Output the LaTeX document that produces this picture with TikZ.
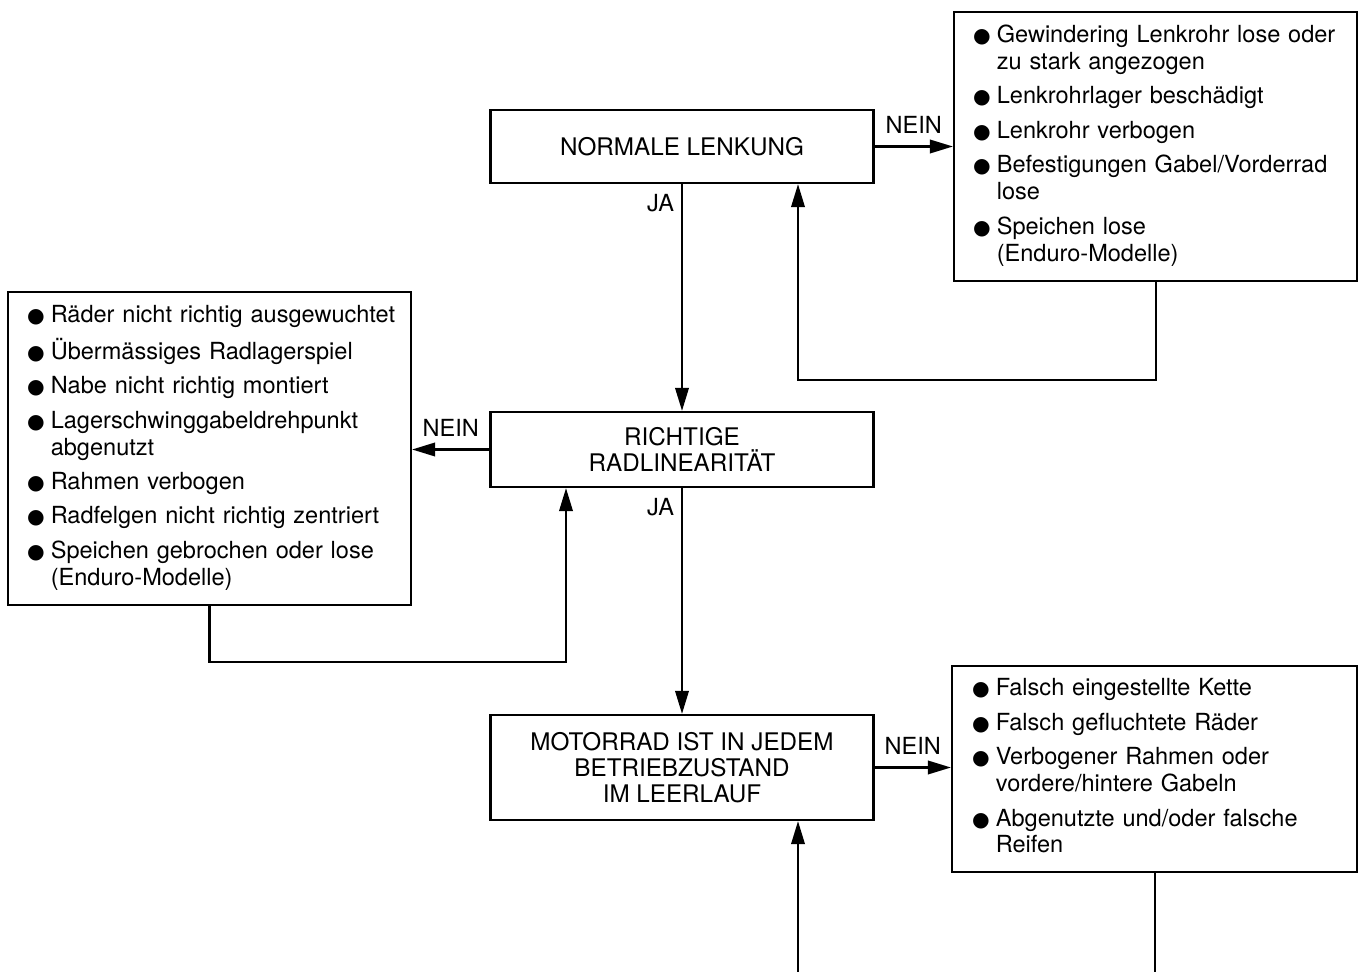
\documentclass[tikz,border=0pt]{standalone}
\usepackage{fontspec}
\setmainfont{TeX Gyre Heros}
\newfontfamily\bulletfont{DejaVu Sans}
\usetikzlibrary{arrows.meta}
\newcommand{\flowfont}{\fontsize{13.4pt}{15.3pt}\selectfont}
\newcommand{\boxfont}{\fontsize{13.8pt}{14.9pt}\selectfont}
\newcommand{\dotmark}{{\bulletfont\fontsize{11.5pt}{15.3pt}\selectfont ●}}
\begin{document}
\begin{tikzpicture}[x=0.02cm,y=-0.02cm,
  box/.style={draw,line width=1.3pt,minimum width=7.66cm,align=center,font=\boxfont,inner sep=2pt},
  liste/.style={draw,line width=1.3pt,inner xsep=0.38cm,inner ysep=0pt,text width=7.3cm,align=left,font=\flowfont},
  arr/.style={line width=1.15pt,-{Triangle[length=0.46cm,width=0.27cm]}},
  lbl/.style={font=\flowfont,inner sep=2pt}]
\useasboundingbox (0,0) rectangle (1361,972);
% Pruefschritte
\node[box,minimum height=1.46cm] (lenkung) at (682,146.5) {NORMALE LENKUNG};
\node[box,minimum height=1.5cm] (linear) at (682,449.5) {RICHTIGE\\RADLINEARITÄT};
\node[box,minimum height=2.1cm] (leerlauf) at (682,767.5) {MOTORRAD IST IN JEDEM\\BETRIEBZUSTAND\\IM LEERLAUF};
% Ursachen
\node[liste,minimum height=5.38cm] (urs1) at (1155.5,146.5) {%
  \begin{tabular}{@{}l@{\hspace{3.5pt}}l@{}}
  \dotmark & Gewindering Lenkrohr lose oder\\ & zu stark angezogen\\[4.3pt]
  \dotmark & Lenkrohrlager beschädigt\\[4.3pt]
  \dotmark & Lenkrohr verbogen\\[4.3pt]
  \dotmark & Befestigungen Gabel/Vorderrad\\ & lose\\[4.3pt]
  \dotmark & Speichen lose\\ & (Enduro-Modelle)
  \end{tabular}};
\node[liste,minimum height=6.26cm] (urs2) at (209.5,448.5) {%
  \begin{tabular}{@{}l@{\hspace{3.5pt}}l@{}}
  \dotmark & Räder nicht richtig ausgewuchtet\\[4.3pt]
  \dotmark & Übermässiges Radlagerspiel\\[4.3pt]
  \dotmark & Nabe nicht richtig montiert\\[4.3pt]
  \dotmark & Lagerschwinggabeldrehpunkt\\ & abgenutzt\\[4.3pt]
  \dotmark & Rahmen verbogen\\[4.3pt]
  \dotmark & Radfelgen nicht richtig zentriert\\[4.3pt]
  \dotmark & Speichen gebrochen oder lose\\ & (Enduro-Modelle)
  \end{tabular}};
\node[liste,minimum width=8.1cm,minimum height=4.12cm] (urs3) at (1154.5,769) {%
  \begin{tabular}{@{}l@{\hspace{3.5pt}}l@{}}
  \dotmark & Falsch eingestellte Kette\\[4.3pt]
  \dotmark & Falsch gefluchtete Räder\\[4.3pt]
  \dotmark & Verbogener Rahmen oder\\ & vordere/hintere Gabeln\\[4.3pt]
  \dotmark & Abgenutzte und/oder falsche\\ & Reifen
  \end{tabular}};
% Verbindungen
\draw[arr] (lenkung.east) -- node[lbl,midway,above=5pt] {NEIN} (urs1.west);
\draw[arr] (lenkung.south) -- node[lbl,pos=0.085,left=2pt] {JA} (linear.north);
\draw[arr] (linear.west) -- node[lbl,midway,above=5pt] {NEIN} (linear.west -| urs2.east);
\draw[arr] (linear.south) -- node[lbl,pos=0.085,left=2pt] {JA} (leerlauf.north);
\draw[arr] (leerlauf.east) -- node[lbl,midway,above=5pt] {NEIN} (leerlauf.east -| urs3.west);
% Rueckfuehrungen
\coordinate (rueck1) at (798,380);
\coordinate (rueck2) at (566,662);
\coordinate (rueck3) at (798,973);
\draw[arr] (urs1.south) |- (rueck1) -- (rueck1 |- lenkung.south);
\draw[arr] (urs2.south) |- (rueck2) -- (rueck2 |- linear.south);
\draw[arr] (urs3.south) |- (rueck3) -- (rueck3 |- leerlauf.south);
\end{tikzpicture}
\end{document}
